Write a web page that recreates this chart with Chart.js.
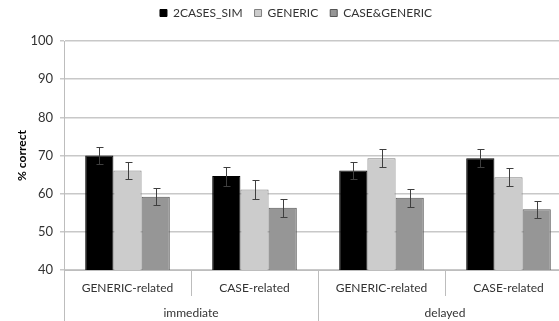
<!DOCTYPE html>
<html>
<head>
<meta charset="utf-8">
<script src="https://cdn.jsdelivr.net/npm/chart.js@4"></script>
<style>
    html, body { margin: 0; padding: 0; background: #fff; overflow: hidden; }
    #wrap { width: 572px; height: 321px; }
</style>
</head>
<body>
<div id="wrap"><canvas id="chart"></canvas></div>
<script>
const categories = ['GENERIC-related', 'CASE-related', 'GENERIC-related', 'CASE-related'];
const groups = ['immediate', 'delayed'];
const seriesNames = ['2CASES_SIM', 'GENERIC', 'CASE&GENERIC'];
const casesSim = [70.0, 64.6, 66.1, 69.3];
const generic = [66.1, 61.1, 69.3, 64.3];
const caseGeneric = [59.2, 56.3, 58.9, 55.9];
const casesSimErr = [2.2, 2.5, 2.3, 2.3];
const genericErr = [2.2, 2.5, 2.3, 2.4];
const caseGenericErr = [2.2, 2.3, 2.3, 2.2];
const yTicks = [40, 50, 60, 70, 80, 90, 100];

const font = 'Lato, "Liberation Sans", sans-serif';
const gridColor = '#c8c8c8';
const axisColor = '#bdbdbd';

// error bars drawn from each bar's x and the y scale
const errorBars = {
    id: 'errorBars',
    afterDatasetsDraw(chart) {
        const ctx = chart.ctx;
        const y = chart.scales.y;
        ctx.save();
        ctx.strokeStyle = '#3f3f3f';
        ctx.lineWidth = 1;
        chart.data.datasets.forEach((ds, i) => {
            chart.getDatasetMeta(i).data.forEach((bar, j) => {
                const v = ds.data[j];
                const e = ds.errors[j];
                const top = Math.round(y.getPixelForValue(v + e)) + 0.5;
                const bot = Math.round(y.getPixelForValue(v - e)) + 0.5;
                const x = Math.round(bar.x) + 0.5;
                ctx.beginPath();
                ctx.moveTo(x, top); ctx.lineTo(x, bot);
                ctx.moveTo(x - 3, top); ctx.lineTo(x + 4, top);
                ctx.moveTo(x - 3, bot); ctx.lineTo(x + 4, bot);
                ctx.stroke();
            });
        });
        ctx.restore();
    }
};

// the canvas is wider than the window, so move the legend to where it sits in the original
const legendShift = {
    id: 'legendShift',
    afterLayout(chart) {
        const lg = chart.legend;
        lg.left += 10;
        lg.right += 10;
        lg.top -= 12;
        lg.bottom -= 12;
    }
};

new Chart(document.getElementById('chart'), {
    type: 'bar',
    data: {
        labels: categories,
        datasets: [
            { label: seriesNames[0], data: casesSim, errors: casesSimErr, backgroundColor: '#000000', borderColor: '#000000', borderWidth: 1 },
            { label: seriesNames[1], data: generic, errors: genericErr, backgroundColor: '#cccccc', borderColor: '#808080', borderWidth: 1 },
            { label: seriesNames[2], data: caseGeneric, errors: caseGenericErr, backgroundColor: '#969696', borderColor: '#555555', borderWidth: 1 }
        ]
    },
    options: {
        responsive: true,
        maintainAspectRatio: false,
        animation: false,
        categoryPercentage: 0.666,
        barPercentage: 1.0,
        layout: { padding: { top: 7, left: 0, right: 0, bottom: 0 } },
        plugins: {
            legend: {
                position: 'top',
                labels: {
                    boxWidth: 7,
                    boxHeight: 7,
                    padding: 12,
                    color: '#333',
                    font: { family: font, size: 12 }
                }
            },
            tooltip: { enabled: false }
        },
        scales: {
            x: {
                type: 'category',
                offset: true,
                weight: 0,
                afterFit: s => { s.height = 26; },
                grid: { offset: true, drawOnChartArea: false, tickLength: 26, color: axisColor },
                border: { color: axisColor },
                ticks: { padding: -15, color: '#333', font: { family: font, size: 12 } }
            },
            x2: {
                type: 'category',
                position: 'bottom',
                labels: groups,
                offset: true,
                weight: 1,
                afterFit: s => { s.height = 25; },
                grid: { offset: true, drawOnChartArea: false, tickLength: 25, color: axisColor },
                border: { display: false },
                ticks: { padding: -15, color: '#333', font: { family: font, size: 12 } }
            },
            y: {
                min: 40,
                max: 100,
                afterBuildTicks: axis => { axis.ticks = yTicks.map(v => ({ value: v })); },
                afterFit: s => { s.width = 64; },
                grid: { color: gridColor, lineWidth: 1.5, tickLength: 4 },
                border: { color: axisColor },
                ticks: { padding: 7, color: '#333', font: { family: font, size: 13 } },
                title: { display: true, text: '% correct', color: '#000', padding: { top: 15, bottom: 0 }, font: { family: font, size: 12, weight: 'bold' } }
            }
        }
    },
    plugins: [errorBars, legendShift]
});
</script>
</body>
</html>
